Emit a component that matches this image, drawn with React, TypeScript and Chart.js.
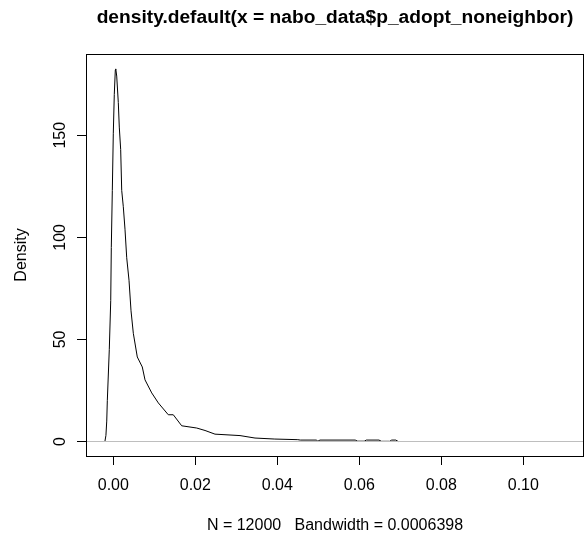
import React, { useEffect, useRef } from "react";
import { Chart, registerables } from "chart.js";

Chart.register(...registerables);

// Density estimate
const densityX = [
  -0.00205, -0.0018, -0.0016, -0.00146, -0.00098, -0.00063, -0.00049, -0.00024, 0.0,
  0.00024, 0.00049, 0.0006, 0.00083, 0.00122, 0.00146, 0.0018, 0.00205, 0.00244,
  0.00285, 0.00327, 0.00383, 0.00432, 0.00488, 0.00585, 0.00707, 0.00773, 0.00937,
  0.01098, 0.01341, 0.01463, 0.01668, 0.02034, 0.02237, 0.0248, 0.0309, 0.03456,
  0.0394, 0.045, 0.0456, 0.0495, 0.0499, 0.0504, 0.059, 0.0596, 0.0612, 0.0617,
  0.0648, 0.0654, 0.0674, 0.0679, 0.0689, 0.0695, 0.1103,
];
const densityY = [
  0, 3, 10, 20, 45, 69, 95, 123, 151,
  170, 182, 182.5, 179, 166, 154, 143, 123, 115,
  104, 90, 79, 64, 53, 41.4, 36.5, 30.2, 23.8,
  18.9, 13.1, 13.1, 7.7, 6.6, 5.4, 3.6, 2.9, 1.7,
  1.2, 0.9, 0.7, 0.7, 0.15, 0.7, 0.7, 0.15, 0.15, 0.7,
  0.7, 0.1, 0.1, 0.7, 0.7, 0, 0,
];

const xTickValues = [0, 0.02, 0.04, 0.06, 0.08, 0.1];
const yTickValues = [0, 50, 100, 150];
const xLimits = [-0.00666, 0.1148];
const yLimits = [-7.1, 189.8];

const titleText = "density.default(x = nabo_data$p_adopt_noneighbor)";
const xAxisText = "N = 12000   Bandwidth = 0.0006398";
const yAxisText = "Density";

const FONT = "'Liberation Sans', Arial, Helvetica, sans-serif";

const rPlotPlugin = {
  id: "rPlot",
  afterDatasetsDraw(chart: any) {
    const { ctx, chartArea } = chart;
    const y0 = chart.scales.y.getPixelForValue(0);
    ctx.save();
    ctx.strokeStyle = "#bebebe";
    ctx.lineWidth = 1;
    ctx.beginPath();
    ctx.moveTo(chartArea.left, y0);
    ctx.lineTo(chartArea.right, y0);
    ctx.stroke();
    ctx.restore();
  },
  afterDraw(chart: any) {
    const { ctx, chartArea } = chart;
    ctx.save();
    ctx.strokeStyle = "#000";
    ctx.lineWidth = 1;
    ctx.strokeRect(
      Math.round(chartArea.left) + 0.5,
      Math.round(chartArea.top) + 0.5,
      Math.round(chartArea.right - chartArea.left) - 1,
      Math.round(chartArea.bottom - chartArea.top)
    );
    const cx = (chartArea.left + chartArea.right) / 2;
    ctx.fillStyle = "#000";
    ctx.textAlign = "center";
    ctx.textBaseline = "alphabetic";
    ctx.font = `bold 19.2px ${FONT}`;
    ctx.fillText(titleText, cx, 23);
    ctx.font = `16px ${FONT}`;
    ctx.fillText(xAxisText, cx, 530);
    ctx.translate(26, (chartArea.top + chartArea.bottom) / 2);
    ctx.rotate(-Math.PI / 2);
    ctx.fillText(yAxisText, 0, 0);
    ctx.restore();
  },
};

export default function App() {
  const canvasRef = useRef<HTMLCanvasElement | null>(null);

  useEffect(() => {
    if (!canvasRef.current) return;
    const chart = new Chart(canvasRef.current, {
      type: "line",
      data: {
        datasets: [
          {
            data: densityX.map((x, i) => ({ x, y: densityY[i] })),
            borderColor: "#000",
            borderWidth: 1,
            pointRadius: 0,
            tension: 0,
            fill: false,
          },
        ],
      },
      options: {
        animation: false,
        responsive: false,
        devicePixelRatio: 1,
        layout: { padding: { top: 54, right: 3, left: 0, bottom: 0 } },
        plugins: {
          legend: { display: false },
          tooltip: { enabled: false },
          title: { display: false },
        },
        scales: {
          x: {
            type: "linear",
            min: xLimits[0],
            max: xLimits[1],
            afterBuildTicks: (s: any) => {
              s.ticks = xTickValues.map((v) => ({ value: v }));
            },
            afterFit: (s: any) => {
              s.height = 79;
            },
            border: { display: false },
            grid: {
              display: true,
              drawOnChartArea: false,
              drawTicks: true,
              tickLength: 9,
              color: "#000",
              lineWidth: 1,
            },
            ticks: {
              color: "#000",
              font: { family: FONT, size: 16 },
              padding: 11,
              maxRotation: 0,
              minRotation: 0,
              autoSkip: false,
              callback: (v: any) => Number(v).toFixed(2),
            },
          },
          y: {
            type: "linear",
            min: yLimits[0],
            max: yLimits[1],
            afterBuildTicks: (s: any) => {
              s.ticks = yTickValues.map((v) => ({ value: v }));
            },
            afterFit: (s: any) => {
              s.width = 86;
            },
            border: { display: false },
            grid: {
              display: true,
              drawOnChartArea: false,
              drawTicks: true,
              tickLength: 9,
              color: "#000",
              lineWidth: 1,
            },
            ticks: {
              color: "#000",
              font: { family: FONT, size: 16 },
              padding: 3,
              minRotation: 90,
              maxRotation: 90,
              crossAlign: "center",
              autoSkip: false,
              callback: (v: any) => String(v),
            },
          },
        },
      },
      plugins: [rPlotPlugin],
    } as any);
    return () => chart.destroy();
  }, []);

  return (
    <div style={{ position: "absolute", left: 0, top: 0, width: 587, height: 535, background: "#fff" }}>
      <canvas ref={canvasRef} width={587} height={535} style={{ width: 587, height: 535, display: "block" }} />
    </div>
  );
}
